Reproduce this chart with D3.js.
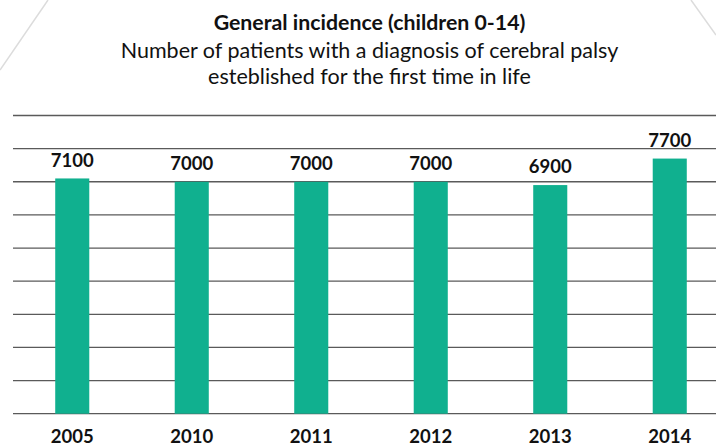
<!DOCTYPE html>
<html>
  <head>
    <meta charset="utf-8">
    <title>General incidence</title>
    <script src="https://d3js.org/d3.v7.min.js"></script>
    <style>
      body { margin: 0; background: #fff; font-family: Lato, "Open Sans", sans-serif; }
    </style>
  </head>
  <body>
    <div id="chart"></div>
    <script>
      // chart data
      var years = ["2005", "2010", "2011", "2012", "2013", "2014"];
      var patients = [7100, 7000, 7000, 7000, 6900, 7700];
      var gridTicks = [0, 1000, 2000, 3000, 4000, 5000, 6000, 7000, 8000, 9000];
      var titleLines = [
        "Number of patients with a diagnosis of cerebral palsy",
        "esteblished for the first time in life"
      ];

      var W = 716, H = 445;

      var svg = d3.select("#chart").append("svg")
        .attr("width", W)
        .attr("height", H);

      // faint decorative strokes in the corners
      svg.append("line")
        .attr("x1", 48).attr("y1", 0).attr("x2", 0).attr("y2", 70)
        .attr("stroke", "#dcdcdc").attr("stroke-width", 1.5);
      svg.append("line")
        .attr("x1", 691).attr("y1", 0).attr("x2", 716).attr("y2", 35)
        .attr("stroke", "#dcdcdc").attr("stroke-width", 1.5);

      var x = d3.scaleBand()
        .domain(years)
        .range([12.5, 729.5])
        .paddingInner(0.715)
        .paddingOuter(0.3575);

      var y = d3.scaleLinear()
        .domain([0, 9000])
        .range([413.7, 115.5]);

      // horizontal grid
      svg.append("g")
        .selectAll("line")
        .data(gridTicks)
        .enter().append("line")
          .attr("x1", 13)
          .attr("x2", W)
          .attr("y1", function(d) { return y(d); })
          .attr("y2", function(d) { return y(d); })
          .attr("stroke", "#5a5a5a")
          .attr("stroke-width", 1.3);

      // bars
      svg.append("g")
        .selectAll("rect")
        .data(patients)
        .enter().append("rect")
          .attr("x", function(d, i) { return x(years[i]); })
          .attr("y", function(d) { return y(d); })
          .attr("width", x.bandwidth())
          .attr("height", function(d) { return y(0) - y(d); })
          .attr("fill", "#10b08f");

      // value labels
      svg.append("g")
        .selectAll("text")
        .data(patients)
        .enter().append("text")
          .attr("x", function(d, i) { return x(years[i]) + x.bandwidth() / 2; })
          .attr("y", function(d) { return y(d) - 11.7; })
          .attr("text-anchor", "middle")
          .style("font-size", "18.5px")
          .style("font-weight", "bold")
          .style("fill", "#111")
          .text(function(d) { return d; });

      // category labels
      svg.append("g")
        .selectAll("text")
        .data(years)
        .enter().append("text")
          .attr("x", function(d) { return x(d) + x.bandwidth() / 2; })
          .attr("y", 443)
          .attr("text-anchor", "middle")
          .style("font-size", "18.5px")
          .style("font-weight", "bold")
          .style("fill", "#111")
          .text(function(d) { return d; });

      // titles
      svg.append("text")
        .attr("x", 369.5).attr("y", 30)
        .attr("text-anchor", "middle")
        .style("font-size", "21.3px")
        .style("font-weight", "bold")
        .style("fill", "#111")
        .text("General incidence (children 0-14)");

      svg.append("g")
        .selectAll("text")
        .data(titleLines)
        .enter().append("text")
          .attr("x", 369.5)
          .attr("y", function(d, i) { return 58 + i * 26; })
          .attr("text-anchor", "middle")
          .style("font-size", "21.5px")
          .style("fill", "#111")
          .text(function(d) { return d; });
    </script>
  </body>
</html>
